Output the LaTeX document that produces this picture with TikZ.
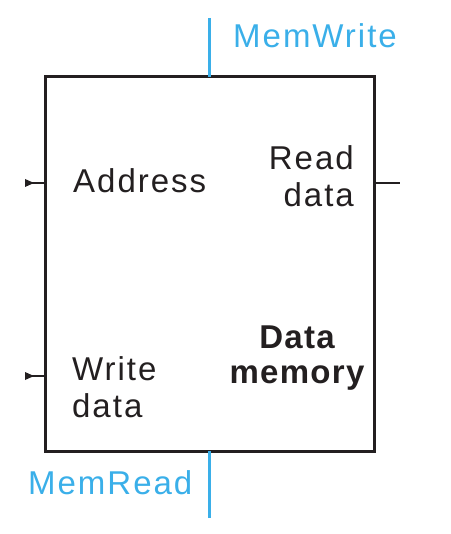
\documentclass[tikz,border=0pt]{standalone}
\usepackage{fontspec}
\setmainfont{Liberation Sans}
\usetikzlibrary{calc}
\definecolor{ink}{HTML}{231F20}
\definecolor{sig}{HTML}{3AAFE9}
\begin{document}
\begin{tikzpicture}[x=1pt,y=-1pt,
  lbl/.style={inner sep=0pt, font=\fontsize{33}{37}\selectfont\addfontfeature{LetterSpace=6}, text=ink},
  blbl/.style={inner sep=0pt, font=\fontsize{33}{35}\selectfont\bfseries\addfontfeature{LetterSpace=4}, text=ink, align=center},
  slbl/.style={inner sep=0pt, font=\fontsize{33}{37}\selectfont\addfontfeature{LetterSpace=6}, text=sig},
  wire/.style={draw=ink, line width=1.6pt},
  ctrl/.style={draw=sig, line width=3pt}]
\useasboundingbox (0,0) rectangle (450,534);
\node[draw=ink, line width=3pt, inner sep=0pt, outer sep=0pt, minimum width=329pt, minimum height=374pt, anchor=north west] (mem) at (45,77) {};
% control signals
\coordinate (mwtop) at (209,18);
\coordinate (mrbot) at (209,518);
\draw[ctrl] (mwtop) -- (mwtop |- mem.north);
\draw[ctrl] (mrbot) -- (mrbot |- mem.south);
\node[slbl, anchor=base west] (mw) at (233,48) {MemWrite};
\node[slbl, anchor=base west] (mr) at (28,494) {MemRead};
% inputs
\coordinate (in1) at (25,183);
\coordinate (in2) at (25,376);
\draw[wire] (in1) -- (in1 -| mem.west);
\draw[wire] (in2) -- (in2 -| mem.west);
\fill[ink] ($(in1)+(0,-4)$) -- ($(in1)+(9,0)$) -- ($(in1)+(0,4)$) -- cycle;
\fill[ink] ($(in2)+(0,-4)$) -- ($(in2)+(9,0)$) -- ($(in2)+(0,4)$) -- cycle;
% output
\coordinate (out) at (400,183);
\draw[wire] (out -| mem.east) -- (out);
% labels
\node[lbl, anchor=base west] (addr) at (73,193) {Address};
\node[lbl, anchor=base west] (wd1) at (72,380) {Write};
\node[lbl, anchor=base west] (wd2) at (72,417) {data};
\node[lbl, anchor=base east] (rd1) at (354,170) {Read};
\node[lbl, anchor=base east] (rd2) at (354,207) {data};
\node[blbl, anchor=base] (dm1) at (297,348) {Data};
\node[blbl, anchor=base] (dm2) at (297,383) {memory};
\end{tikzpicture}
\end{document}
